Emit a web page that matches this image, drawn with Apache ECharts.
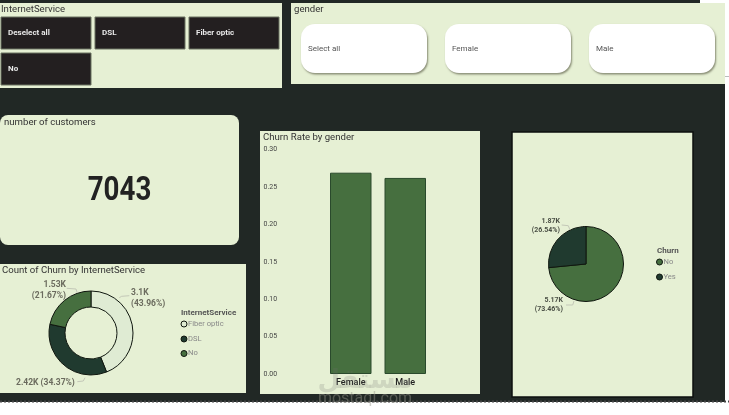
<!DOCTYPE html>
<html>
<head>
<meta charset="utf-8">
<style>
  html, body { margin: 0; padding: 0; background: #fff; }
  #main { width: 729px; height: 415px; }
</style>
<script src="https://cdn.jsdelivr.net/npm/echarts@6/dist/echarts.min.js"></script>
</head>
<body>
<div id="main"></div>
<script>
// slicers
const internetOptions = ['Deselect all', 'DSL', 'Fiber optic', 'No'];
const genderOptions = ['Select all', 'Female', 'Male'];

// card
const customerCount = '7043';

// churn by internet service
const serviceNames = ['Fiber optic', 'DSL', 'No'];
const serviceCounts = [3096, 2421, 1526];

// churn rate
const genders = ['Female', 'Male'];
const churnRates = [0.269, 0.262];
const rateTicks = ['0.00', '0.05', '0.10', '0.15', '0.20', '0.25', '0.30'];

// churn split
const churnNames = ['No', 'Yes'];
const churnCounts = [5174, 1869];

const FONT = 'Roboto';
const PANEL = '#e6f0d4';
const DARK = '#212825';
const GREEN = '#466f3f';
const DEEP = '#203a2f';
const PALE = '#dfebd3';
const serviceColors = [PALE, DEEP, GREEN];
const churnColors = [GREEN, DEEP];

function kLabel(p) {
    const k = parseFloat((p.value / 1000).toPrecision(3));
    return k + 'K';
}

function rect(x, y, w, h, fill, extra) {
    return Object.assign({ type: 'rect', z: 0, shape: { x: x, y: y, width: w, height: h }, style: { fill: fill } }, extra || {});
}

function text(x, y, str, size, color, weight, align) {
    return {
        type: 'text', z: 5, x: x, y: y,
        style: {
            text: str, fontFamily: FONT, fontSize: size, fill: color,
            fontWeight: weight || 'normal', align: align || 'left', verticalAlign: 'middle'
        }
    };
}

function leader(points) {
    return { type: 'polyline', z: 5, shape: { points: points }, style: { fill: null, stroke: '#c4c8b8', lineWidth: 1 } };
}

const shapes = [
    rect(0, 0, 729, 415, '#ffffff'),
    rect(0, 0, 725, 402, DARK),
    rect(700, 0, 29, 3, '#ffffff'),
    rect(725, 76, 4, 1, '#bbbbbb'),
    { type: 'line', z: 1, shape: { x1: 0, y1: 401.5, x2: 729, y2: 401.5 }, style: { stroke: '#444444', lineWidth: 2, lineDash: [2, 2] } },

    rect(0, 3, 282, 85, PANEL),
    rect(291, 3, 434, 81, PANEL),
    rect(0, 115, 239, 130, PANEL, { shape: { x: 0, y: 115, width: 239, height: 130, r: 8 } }),
    rect(0, 264, 246, 129, PANEL),
    rect(260, 131, 220, 263, PANEL),
    rect(512, 132, 181, 265, PANEL, { style: { fill: PANEL, stroke: '#0d0f0e', lineWidth: 1.5 } }),

    text(1, 9.5, 'InternetService', 9.6, '#333333'),
    text(294, 9.5, 'gender', 9.6, '#333333'),
    text(4, 123, 'number of customers', 9.6, '#333333'),
    text(2, 270.5, 'Count of Churn by InternetService', 9.6, '#333333'),
    text(263, 137.5, 'Churn Rate by gender', 9.6, '#333333'),
    Object.assign(text(119.5, 192, customerCount, 33, '#222222', 'bold', 'center'), { scaleX: 0.84 }),

    text(181, 313, 'InternetService', 8, '#555555', 'bold'),
    text(657, 250.5, 'Churn', 8, '#555555', 'bold'),

    // label connectors
    leader([[66.7, 288.3], [76, 289], [77.3, 293]]),
    leader([[119.3, 297.7], [121.7, 296.3], [129.3, 295.7]]),
    leader([[77.3, 381.7], [83.3, 381], [85, 377.7]]),
    leader([[561.7, 225], [568.3, 225.7], [570, 230]]),
    leader([[566, 305], [572.7, 305], [574, 301]]),

    // watermark
    { type: 'text', z: 6, x: 365, y: 381, style: { text: 'مستقل', fontFamily: 'DejaVu Sans', fontSize: 26, fontWeight: 'bold', fill: 'rgba(110,110,110,0.2)', align: 'center', verticalAlign: 'middle' } },
    { type: 'text', z: 6, x: 365, y: 399, style: { text: 'mostaql.com', fontFamily: FONT, fontSize: 16, fill: 'rgba(150,150,140,0.45)', align: 'center', verticalAlign: 'middle' } }
];

// slicer buttons
const internetSlots = [[1, 17], [95, 17], [189, 17], [1, 53]];
internetOptions.forEach(function (name, i) {
    const s = internetSlots[i];
    shapes.push(rect(s[0], s[1], 90, 32, '#231f20', { z: 2, style: { fill: '#231f20', stroke: '#6b7360', lineWidth: 1 } }));
    shapes.push(text(s[0] + 7, s[1] + 15.5, name, 8, '#e8e8e8', 'bold'));
});

const genderSlots = [301, 445, 589];
genderOptions.forEach(function (name, i) {
    const x = genderSlots[i];
    shapes.push({
        type: 'rect', z: 2,
        shape: { x: x, y: 24, width: 126, height: 49, r: 14 },
        style: { fill: '#ffffff', shadowColor: 'rgba(60,60,40,0.55)', shadowBlur: 2, shadowOffsetX: 1, shadowOffsetY: 1.5 }
    });
    shapes.push(text(x + 7, 49, name, 8, '#555555'));
});

// legends: the report has the text tight against the dot, echarts legend can't do that
function addLegend(names, colors, x, rows) {
    names.forEach(function (name, i) {
        shapes.push({
            type: 'circle', z: 5,
            shape: { cx: x, cy: rows[i], r: 3 },
            style: { fill: colors[i], stroke: '#10170f', lineWidth: 1 }
        });
        shapes.push(text(x + 4, rows[i], name, 7.6, '#888888'));
    });
}
addLegend(serviceNames, serviceColors, 184, [324, 339, 353.5]);
addLegend(churnNames, churnColors, 659.5, [262, 277]);

// where the pie labels sit in the report
const serviceLabelSpots = [
    { x: 131, y: 298, align: 'left', verticalAlign: 'middle' },
    { x: 16, y: 383, align: 'left', verticalAlign: 'middle' },
    { x: 66, y: 290, align: 'right', verticalAlign: 'middle' }
];
const churnLabelSpots = [
    { x: 563, y: 305, align: 'right', verticalAlign: 'middle' },
    { x: 560, y: 226, align: 'right', verticalAlign: 'middle' }
];

const option = {
    animation: false,
    textStyle: { fontFamily: FONT },
    graphic: { elements: shapes },
    grid: { left: 323.5, top: 149.5, width: 109, height: 224.5 },
    xAxis: {
        type: 'category',
        data: genders,
        axisLine: { show: false },
        axisTick: { show: false },
        axisLabel: { color: '#222222', fontSize: 9, margin: 4, fontWeight: 500 }
    },
    yAxis: {
        type: 'value',
        min: 0,
        max: 0.3,
        interval: 0.05,
        splitLine: { show: false },
        axisLine: { show: false },
        axisTick: { show: false },
        axisLabel: {
            color: '#444444', fontSize: 7, align: 'left', margin: 60, padding: [3, 0, 0, 0],
            formatter: function (v) { return rateTicks[Math.round(v / 0.05)]; }
        }
    },
    series: [
        {
            type: 'bar',
            data: churnRates,
            barWidth: 41.5,
            itemStyle: { color: GREEN, borderColor: '#2a4a2c', borderWidth: 1 }
        },
        {
            type: 'pie',
            center: [91, 333],
            radius: [26, 42],
            startAngle: 90,
            data: serviceNames.map(function (n, i) {
                return { name: n, value: serviceCounts[i], itemStyle: { color: serviceColors[i] } };
            }),
            itemStyle: { borderColor: '#10170f', borderWidth: 1 },
            label: {
                color: '#6b6b5e', fontSize: 8.5, fontWeight: 'bold', lineHeight: 11, overflow: 'none',
                formatter: function (p) {
                    return p.dataIndex === 1 ? kLabel(p) + ' (' + p.percent + '%)' : kLabel(p) + '\n(' + p.percent + '%)';
                }
            },
            labelLine: { show: false },
            labelLayout: function (p) { return serviceLabelSpots[p.dataIndex]; },
            percentPrecision: 2
        },
        {
            type: 'pie',
            center: [586, 264],
            radius: [0, 37.5],
            startAngle: 90,
            data: churnNames.map(function (n, i) {
                return { name: n, value: churnCounts[i], itemStyle: { color: churnColors[i] } };
            }),
            itemStyle: { borderColor: '#10170f', borderWidth: 1 },
            label: {
                color: '#4a4f45', fontSize: 7, fontWeight: 'bold', lineHeight: 9, overflow: 'none',
                formatter: function (p) { return kLabel(p) + '\n(' + p.percent + '%)'; }
            },
            labelLine: { show: false },
            labelLayout: function (p) { return churnLabelSpots[p.dataIndex]; },
            percentPrecision: 2
        }
    ]
};

const chart = echarts.init(document.getElementById('main'), null, { renderer: 'canvas' });
chart.setOption(option);
</script>
</body>
</html>
